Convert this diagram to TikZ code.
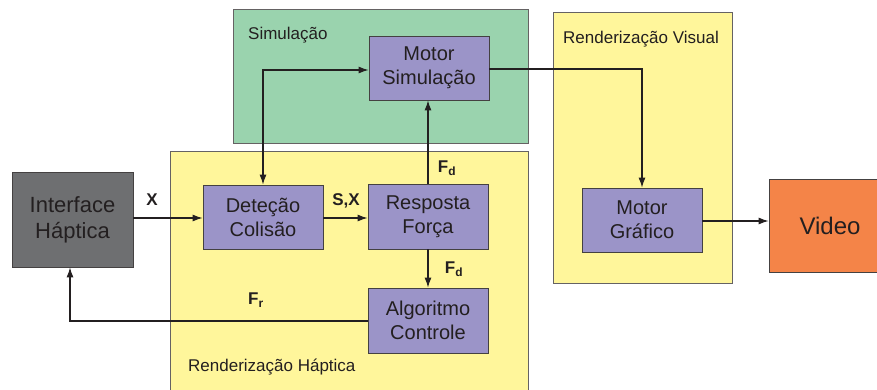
\documentclass[tikz,border=0pt]{standalone}
\usepackage{fontspec}
\setmainfont{Liberation Sans}
\usepackage{tikz}
\usetikzlibrary{arrows.meta,positioning}
\definecolor{simverde}{RGB}{154,211,174}
\definecolor{renamarelo}{RGB}{255,246,155}
\definecolor{motorroxo}{RGB}{155,148,200}
\definecolor{interfcinza}{RGB}{110,111,113}
\definecolor{videolaranja}{RGB}{244,132,72}
\definecolor{texto}{RGB}{35,31,32}
\tikzset{bloco/.style={draw=texto!85,line width=0.8pt,fill=motorroxo,align=center,minimum width=120,minimum height=64,font=\fontsize{20}{24}\selectfont,text=texto},
zona/.style={draw=texto!70,line width=0.8pt,inner sep=0pt},
rotulo/.style={font=\fontsize{17}{20}\selectfont,text=texto,anchor=west,inner sep=0pt},
sinal/.style={font=\fontsize{17}{20}\selectfont\bfseries,text=texto,inner sep=1pt},
fluxo/.style={-{Latex[length=10pt,width=7pt]},line width=1.1pt,draw=texto}}
\begin{document}
\begin{tikzpicture}[x=1pt,y=-1pt]
\useasboundingbox (0,0) rectangle (877,389);
\clip (0,0) rectangle (877,389);
% zonas
\node[zona,fill=simverde,minimum width=295,minimum height=134] (zsim) at (380.5,76) {};
\node[zona,fill=renamarelo,minimum width=358,minimum height=250] (zhapt) at (349,276) {};
\node[zona,fill=renamarelo,minimum width=179,minimum height=271] (zvis) at (642.5,147.5) {};
\node[rotulo] (lsim) at (248,35) {Simulação};
\node[rotulo] (lhapt) at (188,367) {Renderização Háptica};
\node[rotulo] (lvis) at (563,39) {Renderização Visual};
% blocos
\node[bloco] (motorsim) at (429,68) {Motor\\Simulação};
\node[bloco] (detecao) at (263,217) {Deteção\\Colisão};
\node[bloco,minimum height=65] (resposta) at (428,216.5) {Resposta\\Força};
\node[bloco,minimum height=65] (algoritmo) at (428,320.5) {Algoritmo\\Controle};
\node[bloco] (motorgraf) at (642,220) {Motor\\Gráfico};
\node[bloco,fill=interfcinza,minimum width=121,minimum height=95,font=\fontsize{22}{26}\selectfont] (interface) at (72.5,219.5) {Interface\\Háptica};
\node[bloco,fill=videolaranja,minimum width=122,minimum height=93,font=\fontsize{24}{28}\selectfont] (video) at (830,225.5) {Video};
% ligacoes
\draw[fluxo] (interface.east |- 0,218) -- (detecao.west |- 0,218);
\node[sinal] (sx) at (152,200) {X};
\draw[fluxo] (detecao.east |- 0,218) -- (resposta.west |- 0,218);
\node[sinal] (ssx) at (346,201) {S,X};
\draw[fluxo] (resposta.north) -- (resposta.north |- motorsim.south);
\node[sinal] (sfd1) at (447,168) {F\textsubscript{d}};
\draw[fluxo] (resposta.south) -- (algoritmo.north);
\node[sinal] (sfd2) at (454,269) {F\textsubscript{d}};
\draw[fluxo] (algoritmo.west |- 0,321) -| (interface.south -| 70,0);
\node[sinal] (sfr) at (256,300) {F\textsubscript{r}};
\draw[fluxo,{Latex[length=10pt,width=7pt]}-{Latex[length=10pt,width=7pt]}] (detecao.north) |- (motorsim.west |- 0,70);
\draw[fluxo] (motorsim.east |- 0,69) -| (motorgraf.north);
\draw[fluxo] (motorgraf.east |- 0,221) -- (video.west |- 0,221);
\end{tikzpicture}
\end{document}
